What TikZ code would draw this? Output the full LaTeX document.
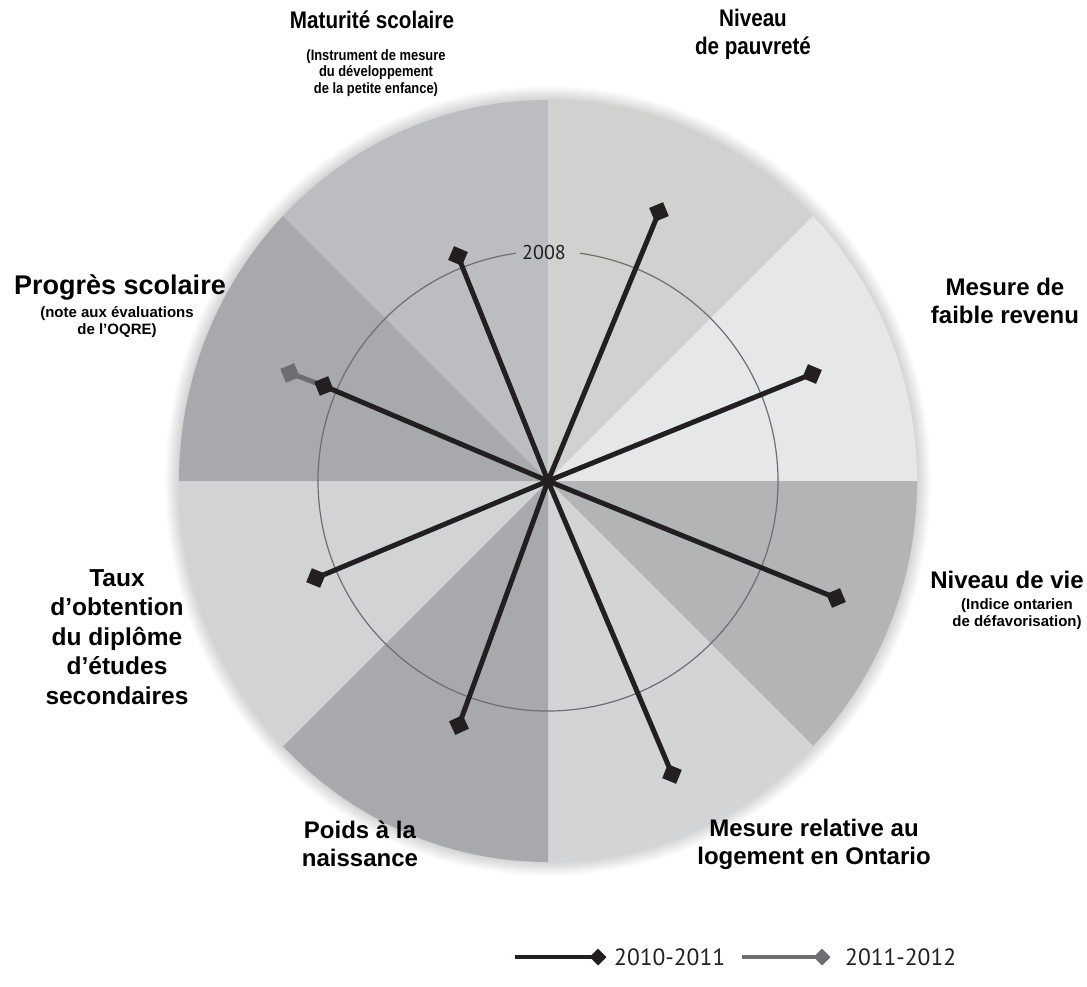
\documentclass[tikz,border=0pt]{standalone}
\usepackage{fontspec}
\setmainfont{Liberation Sans}
\newfontfamily\legfont{PT Sans}
\definecolor{secA}{HTML}{BCBDC0}
\definecolor{secB}{HTML}{D1D1CF}
\definecolor{secC}{HTML}{E6E7E8}
\definecolor{secD}{HTML}{B3B4B6}
\definecolor{secE}{HTML}{D3D4D6}
\definecolor{secF}{HTML}{A7A9AC}
\definecolor{secG}{HTML}{D1D3D4}
\definecolor{secH}{HTML}{A7A9AC}
\definecolor{ink}{HTML}{231F20}
\definecolor{inkgrey}{HTML}{6D6E71}
\tikzset{
  diam/.style={rectangle, fill=ink, minimum size=15pt, inner sep=0pt, outer sep=0pt},
  spoke/.style={draw=ink, line width=5pt},
  lbl/.style={font=\bfseries\fontsize{24}{28}\selectfont, align=center, inner sep=0pt, text=black},
  sublbl/.style={font=\bfseries\fontsize{15}{16.5}\selectfont, align=center, inner sep=0pt, text=black},
  leg/.style={font=\legfont\fontsize{23.5}{28}\selectfont, inner sep=0pt, text=ink},
  ring/.style={draw=inkgrey, line width=1.2pt}
}
\begin{document}
\begin{tikzpicture}[x=1pt,y=-1pt]
\useasboundingbox (0,0) rectangle (1087,987);
\fill[white] (0,0) rectangle (1087,987);
\coordinate (O) at (548,481);
% soft shadow
\foreach \i in {1,...,14}
  \fill[black, opacity=0.013] (O) ellipse [x radius=369+\i, y radius=381+\i];
% sectors
\begin{scope}
\clip (O) ellipse [x radius=369, y radius=381];
\fill[secA] (O) -- +(-90:900) -- +(-135:900) -- cycle;
\fill[secB] (O) -- +(-45:900) -- +(-90:900) -- cycle;
\fill[secC] (O) -- +(0:900) -- +(-45:900) -- cycle;
\fill[secD] (O) -- +(45:900) -- +(0:900) -- cycle;
\fill[secE] (O) -- +(90:900) -- +(45:900) -- cycle;
\fill[secF] (O) -- +(135:900) -- +(90:900) -- cycle;
\fill[secG] (O) -- +(180:900) -- +(135:900) -- cycle;
\fill[secH] (O) -- +(-135:900) -- +(-180:900) -- cycle;
\end{scope}
% 2008 ring
\draw[ring] (O) ++(-98:230) arc[start angle=-98, end angle=-442, radius=230];
\node[font=\legfont\fontsize{20}{22}\selectfont, inner sep=0pt, text=ink] (yr) at (544,252) {2008};
% data points
\coordinate (p1) at (458,256);
\coordinate (p2) at (659,212);
\coordinate (p3) at (812,374);
\coordinate (p4) at (836,598);
\coordinate (p5) at (672,774);
\coordinate (p6) at (459,725);
\coordinate (p7) at (316,578);
\coordinate (p8) at (324,386);
\coordinate (q8) at (290,373);
\draw[spoke, draw=inkgrey] (p8) -- (q8);
\foreach \k in {1,...,8} \draw[spoke] (O) -- (p\k);
\node[diam, fill=inkgrey, rotate=22.3] (m9) at (q8) {};
\node[diam, rotate=66.8] (m1) at (p1) {};
\node[diam, rotate=22.6] (m2) at (p2) {};
\node[diam, rotate=67.1] (m3) at (p3) {};
\node[diam, rotate=22.9] (m4) at (p4) {};
\node[diam, rotate=67.9] (m5) at (p5) {};
\node[diam, rotate=25] (m6) at (p6) {};
\node[diam, rotate=67.7] (m7) at (p7) {};
\node[diam, rotate=22] (m8) at (p8) {};
% labels
\node[lbl, xscale=0.86] (t1) at (372,20) {Maturité scolaire};
\node[sublbl, xscale=0.86] (s1) at (376,73) {(Instrument de mesure\\du développement\\de la petite enfance)};
\node[lbl, xscale=0.86] (t2) at (753,34) {Niveau\\de pauvreté};
\node[lbl] (t3) at (1005,301) {Mesure de\\faible revenu};
\node[lbl] (t4) at (1007,580) {Niveau de vie};
\node[sublbl] (s4) at (1017,614) {(Indice ontarien\\de défavorisation)};
\node[lbl] (t5) at (814,844) {Mesure relative au\\logement en Ontario};
\node[lbl] (t6) at (360,844) {Poids à la\\naissance};
\node[lbl, font=\bfseries\fontsize{24.5}{29.5}\selectfont] (t7) at (117,637) {Taux\\d’obtention\\du diplôme\\d’études\\secondaires};
\node[lbl, font=\bfseries\fontsize{27}{30}\selectfont] (t8) at (120,287) {Progrès scolaire};
\node[sublbl] (s8) at (117,322) {(note aux évaluations\\de l’OQRE)};
% legend
\coordinate (la) at (515,957);
\coordinate (lc) at (742,957);
\node[diam, rotate=45, minimum size=12pt] (lb) at (598,957) {};
\node[diam, rotate=45, minimum size=12pt, fill=inkgrey] (ld) at (822,957) {};
\draw[spoke, line width=4.5pt] (la) -- (lb.center);
\draw[spoke, draw=inkgrey, line width=4.5pt] (lc) -- (ld.center);
\node[leg, anchor=west] (lt1) at (614,957) {2010-2011};
\node[leg, anchor=west] (lt2) at (845,957) {2011-2012};
\end{tikzpicture}
\end{document}
